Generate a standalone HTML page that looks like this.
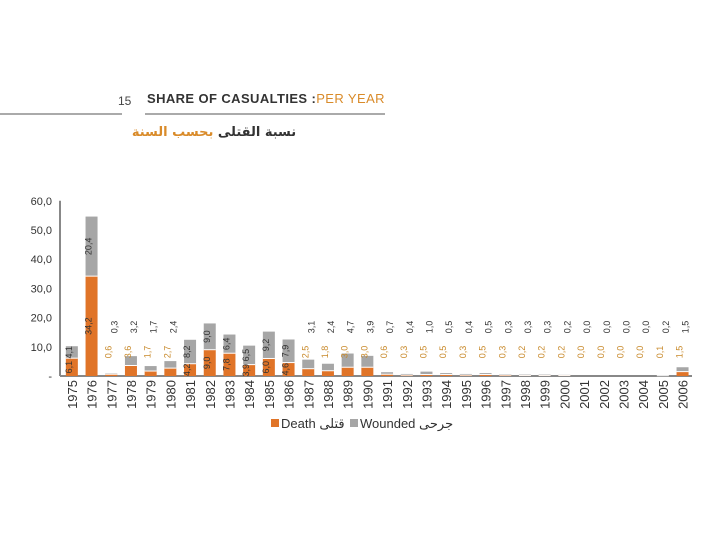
<!DOCTYPE html>
<html><head><meta charset="utf-8"><style>
body{margin:0;background:#fff;}
svg text{font-family:"Liberation Sans","Noto Sans CJK SC",sans-serif;}
</style></head><body>
<svg id="c" width="720" height="540" xmlns="http://www.w3.org/2000/svg">
<text x="118" y="105" font-size="12" fill="#444">15</text>
<line x1="0" y1="114" x2="122" y2="114" stroke="#555" stroke-width="1"/>
<text x="147" y="103" font-size="13" font-weight="bold" fill="#333" letter-spacing="0.4">SHARE OF CASUALTIES :<tspan fill="#d98b2a" font-weight="normal">PER YEAR</tspan></text>
<line x1="145" y1="114" x2="385" y2="114" stroke="#555" stroke-width="1"/>
<text x="214" y="136" font-size="13" text-anchor="middle" fill="#333" font-weight="bold" style="font-family:'DejaVu Sans',sans-serif">نسبة القتلى <tspan fill="#d98b2a">بحسب السنة</tspan></text>
<g id="axis"></g><g id="bars"></g>
<rect x="271" y="419" width="8" height="8" fill="#e07428"/>
<text x="281" y="428" font-size="13" fill="#333">Death <tspan style="font-family:'DejaVu Sans',sans-serif">قتلى</tspan></text>
<rect x="350" y="419" width="8" height="8" fill="#a6a6a6"/>
<text x="360" y="428" font-size="13" fill="#333">Wounded  <tspan style="font-family:'DejaVu Sans',sans-serif">جرحى</tspan></text>
</svg>
<script>
const years=[1975,1976,1977,1978,1979,1980,1981,1982,1983,1984,1985,1986,1987,1988,1989,1990,1991,1992,1993,1994,1995,1996,1997,1998,1999,2000,2001,2002,2003,2004,2005,2006];
const deaths=[6.1,34.2,0.6,3.6,1.7,2.7,4.2,9.0,7.8,3.9,6.0,4.6,2.5,1.8,3.0,3.0,0.6,0.3,0.5,0.5,0.3,0.5,0.3,0.2,0.2,0.2,0.0,0.0,0.0,0.0,0.1,1.5];
const wounded=[4.1,20.4,0.3,3.2,1.7,2.4,8.2,9.0,6.4,6.5,9.2,7.9,3.1,2.4,4.7,3.9,0.7,0.4,1.0,0.5,0.4,0.5,0.3,0.3,0.3,0.2,0.0,0.0,0.0,0.0,0.2,1.5];
const yTicks=[0,10,20,30,40,50,60];
const NS="http://www.w3.org/2000/svg";
const x0=62,step=19.7,base=376,pp=2.92;
const X=i=>x0+step*i+step/2;
const Y=v=>base-v*pp;
const ax=document.getElementById('axis'),bg=document.getElementById('bars');
function mk(tag,at,par){const e=document.createElementNS(NS,tag);for(const k in at)e.setAttribute(k,at[k]);par.appendChild(e);return e;}
const fmt=v=>v.toFixed(1).replace('.',',');
yTicks.forEach(t=>{const e=mk('text',{x:52,y:Y(t)+4,'font-size':11,'text-anchor':'end',fill:'#333'},ax);e.textContent=t===0?'-':fmt(t);

});
const yl=mk('line',{x1:60,y1:Y(60),x2:60,y2:base,stroke:'#888','stroke-width':2},ax);


const xl=mk('line',{x1:60,y1:base,x2:692,y2:base,stroke:'#888','stroke-width':2},ax);


function rot(txt,cx,cy,col,par){const e=mk('text',{x:0,y:0,'font-size':9,'text-anchor':'middle',fill:col,transform:`translate(${cx+3},${cy}) rotate(-90)`},par);e.textContent=txt;return e;}
years.forEach((yr,i)=>{
 const cx=X(i),w=12,d=deaths[i],wd=wounded[i];
 const r1=mk('rect',{x:cx-w/2,y:Y(d),width:w,height:d*pp,fill:'#e07428'},bg);
 
 
 const r2=mk('rect',{x:cx-w/2,y:Y(d+wd),width:w,height:wd*pp,fill:'#a6a6a6'},bg);
 
 
 if(d>0&&wd>0){const s=mk('line',{x1:cx-w/2,y1:Y(d),x2:cx+w/2,y2:Y(d),stroke:'#fff','stroke-width':1},bg);}
 const dIn=d>=3.8;
 const dy=dIn?Y(d/2):352;
 const l1=rot(fmt(d),cx-3,dy,dIn?'#333':'#c8892a',bg);
 
 
 const wIn=wd>=6||(wd>=4&&d>=5);
 const wy=wIn?Y(d+wd/2):327;
 const l2=rot(fmt(wd),wIn?cx-3:cx+3,wy,'#333',bg);
 
 
 const t=mk('text',{x:0,y:0,'font-size':13,'text-anchor':'end',fill:'#333',transform:`translate(${cx+5},${base+4}) rotate(-90)`},bg);
 t.textContent=yr;
 
 
});
</script>
</body></html>
